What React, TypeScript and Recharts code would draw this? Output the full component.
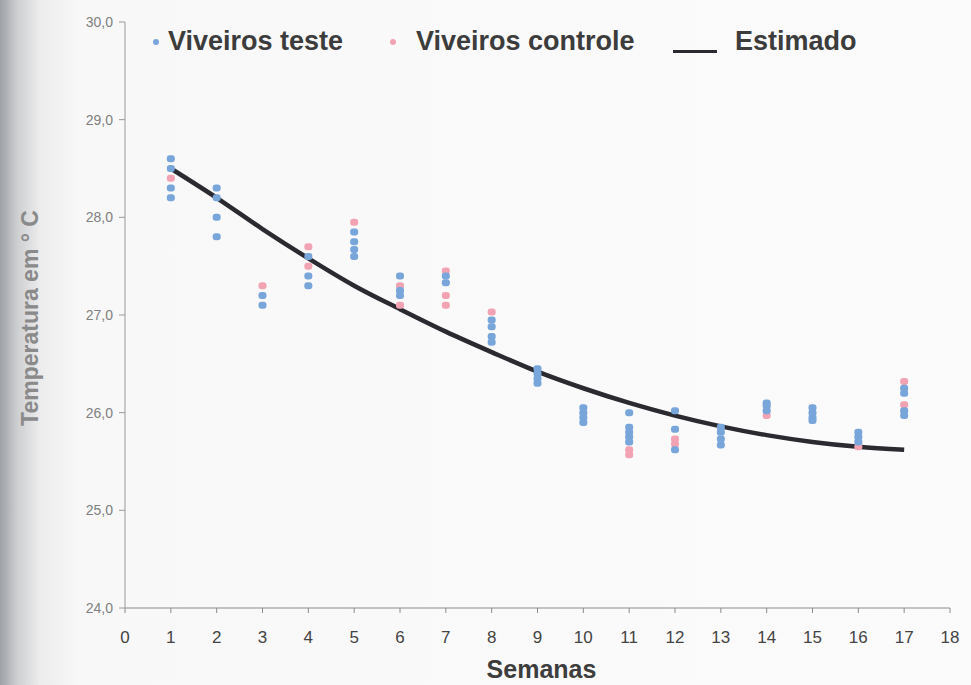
import { ComposedChart, Line, Scatter, XAxis, YAxis } from 'recharts';

const weeks = [1, 2, 3, 4, 5, 6, 7, 8, 9, 10, 11, 12, 13, 14, 15, 16, 17];
const xTicks = [0, 1, 2, 3, 4, 5, 6, 7, 8, 9, 10, 11, 12, 13, 14, 15, 16, 17, 18];
const yTicks = [24, 25, 26, 27, 28, 29, 30];

// Viveiros teste (blue), one list per week
const testeTemps: number[][] = [
  [28.6, 28.5, 28.3, 28.2],
  [28.3, 28.2, 28.0, 27.8],
  [27.2, 27.1],
  [27.6, 27.4, 27.3],
  [27.85, 27.75, 27.67, 27.6],
  [27.4, 27.25, 27.2],
  [27.4, 27.33],
  [26.95, 26.88, 26.78, 26.72],
  [26.45, 26.4, 26.35, 26.3],
  [26.05, 26.0, 25.95, 25.9],
  [26.0, 25.85, 25.8, 25.75, 25.7],
  [26.02, 25.83, 25.62],
  [25.85, 25.8, 25.73, 25.67],
  [26.1, 26.07, 26.02],
  [26.05, 26.0, 25.95, 25.92],
  [25.8, 25.75, 25.7],
  [26.25, 26.2, 26.02, 25.97],
];

// Viveiros controle (pink)
const controleTemps: number[][] = [
  [28.4],
  [],
  [27.3],
  [27.7, 27.5],
  [27.95],
  [27.3, 27.1],
  [27.45, 27.2, 27.1],
  [27.03],
  [],
  [],
  [25.62, 25.57],
  [25.73, 25.68],
  [],
  [25.97],
  [],
  [25.65],
  [26.32, 26.08],
];

// Estimado (fitted curve read at each week)
const estimado = [
  28.5, 28.2, 27.88, 27.58, 27.3, 27.06, 26.83, 26.62, 26.42, 26.25, 26.1, 25.97, 25.86,
  25.77, 25.7, 25.65, 25.62,
];

const BLUE = '#78a5da';
const PINK = '#f2a3b3';
const FONT = '"Liberation Sans", Arial, sans-serif';

function toPoints(temps: number[][]) {
  return weeks.flatMap((w, i) => temps[i].map((t) => ({ week: w, temp: t })));
}

const testePoints = toPoints(testeTemps);
const controlePoints = toPoints(controleTemps);
const lineData = weeks.map((w, i) => ({ week: w, est: estimado[i] }));

const dot = (color: string) => (props: any) => (
  <rect x={props.cx - 4} y={props.cy - 3.5} width={8} height={7} rx={3} fill={color} />
);

const fmt = (v: number) => v.toFixed(1).replace('.', ',');

export default function App() {
  return (
    <div
      style={{
        position: 'absolute',
        left: 0,
        top: 0,
        width: 971,
        height: 685,
        fontFamily: FONT,
        background:
          'linear-gradient(to right, #9ea1a5 0px, #cfd0d2 18px, #ececed 40px, #f8f8f8 80px, #fbfbfb 100%)',
      }}
    >
      <ComposedChart
        width={971}
        height={685}
        data={lineData}
        margin={{ top: 22, right: 21, bottom: 0, left: 0 }}
      >
        <XAxis
          dataKey="week"
          type="number"
          domain={[0, 18]}
          ticks={xTicks}
          interval={0}
          height={77}
          stroke="#8c8c8c"
          tickSize={5}
          tickMargin={18}
          tick={{ fill: '#444', fontSize: 17, fontFamily: FONT }}
          label={{
            content: (p: any) => (
              <text
                x={p.viewBox.x + p.viewBox.width / 2 + 4}
                y={p.viewBox.y + 70}
                textAnchor="middle"
                fill="#3d3d3d"
                fontSize={25}
                fontWeight="bold"
                fontFamily={FONT}
              >
                Semanas
              </text>
            ),
          }}
        />
        <YAxis
          type="number"
          domain={[24, 30]}
          ticks={yTicks}
          width={125}
          stroke="#9a9a9a"
          tickSize={6}
          tickMargin={6}
          tickFormatter={fmt}
          tick={{ fill: '#808080', fontSize: 14, fontFamily: FONT }}
          label={{
            content: (p: any) => {
              const cx = p.viewBox.x + 30;
              const cy = p.viewBox.y + p.viewBox.height / 2 + 3;
              return (
                <text
                  x={cx}
                  y={cy}
                  transform={`rotate(-90, ${cx}, ${cy})`}
                  textAnchor="middle"
                  dominantBaseline="central"
                  fill="#8a8a8a"
                  fontSize={23}
                  fontWeight="bold"
                  fontFamily={FONT}
                >
                  Temperatura em ° C
                </text>
              );
            },
          }}
        />
        <Scatter
          data={controlePoints}
          dataKey="temp"
          shape={dot(PINK)}
          isAnimationActive={false}
        />
        <Scatter data={testePoints} dataKey="temp" shape={dot(BLUE)} isAnimationActive={false} />
        <Line
          dataKey="est"
          type="monotone"
          stroke="#2a2a30"
          strokeWidth={4.5}
          dot={false}
          isAnimationActive={false}
        />
      </ComposedChart>

      <div
        style={{
          position: 'absolute',
          left: 0,
          top: 0,
          width: 971,
          height: 60,
          fontSize: 27,
          fontWeight: 'bold',
          color: '#3c3c3c',
        }}
      >
        <span style={{ position: 'absolute', left: 153, top: 39, width: 6, height: 6, borderRadius: 3, background: BLUE }} />
        <span style={{ position: 'absolute', left: 168, top: 26 }}>Viveiros teste</span>
        <span style={{ position: 'absolute', left: 390, top: 39, width: 6, height: 6, borderRadius: 3, background: PINK }} />
        <span style={{ position: 'absolute', left: 416, top: 26 }}>Viveiros controle</span>
        <span style={{ position: 'absolute', left: 673, top: 50, width: 44, height: 3, background: '#2a2a30' }} />
        <span style={{ position: 'absolute', left: 735, top: 26 }}>Estimado</span>
      </div>
    </div>
  );
}
